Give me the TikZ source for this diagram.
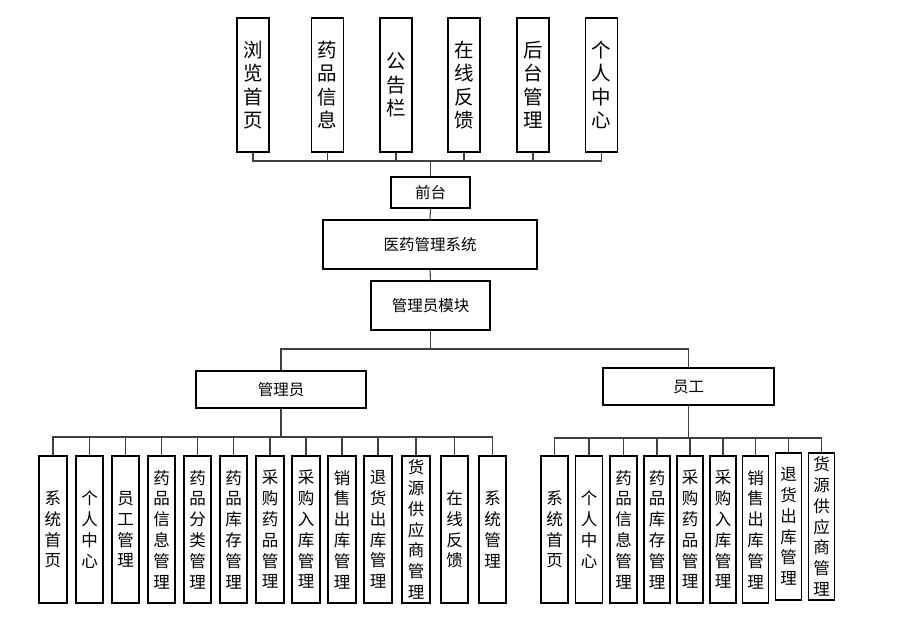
\documentclass[tikz,border=0pt]{standalone}
\usepackage{fontspec}
\newfontfamily\cjk{Noto Sans CJK SC}
\begin{document}
\begin{tikzpicture}[x=1pt,y=-1pt,
  hbox/.style={draw,line width=\orglw,inner sep=0pt,font=\cjk\fontsize{15.5}{18}\selectfont},
  vtop/.style={draw,line width=\orglw,inner sep=0pt,align=center,
    minimum width=32pt,minimum height=134pt,font=\cjk\fontsize{19.5}{23.5}\selectfont},
  vbot/.style={draw,line width=\orglw,inner sep=0pt,align=center,
    minimum width=27pt,minimum height=147pt,font=\cjk\fontsize{16.5}{20.8}\selectfont},
  wire/.style={draw=black!75,line width=\orglw}]%
% org chart, pixel coordinates, y downwards
\ifx\orglw\undefined\newdimen\orglw\fi
\orglw=1.1pt
\useasboundingbox (0,0) rectangle (906,629);
% front end row
\node[vtop] (t1) at (253,85) {浏\\览\\首\\页};
\node[vtop] (t2) at (327.5,85) {药\\品\\信\\息};
\node[vtop] (t3) at (396,85) {公\\告\\栏};
\node[vtop] (t4) at (464,85) {在\\线\\反\\馈};
\node[vtop] (t5) at (533,85) {后\\台\\管\\理};
\node[vtop] (t6) at (601.5,85) {个\\人\\中\\心};
\coordinate (tbus) at (430.5,161);
\node[hbox,minimum width=79pt,minimum height=31pt] (front) at (430.5,192.5) {前台};
\node[hbox,minimum width=214pt,minimum height=49pt] (sys) at (430,244.5) {医药管理系统};
\node[hbox,minimum width=119pt,minimum height=49pt] (mod) at (430.5,305.5) {管理员模块};
\coordinate (mbus) at (430.5,349);
\node[hbox,minimum width=170pt,minimum height=37pt] (admin) at (281,389.5) {管理员};
\node[hbox,minimum width=171pt,minimum height=37pt] (staff) at (688.5,386.5) {员工};
% admin modules
\coordinate (lbus) at (281,437);
\node[vbot,minimum width=28pt] (a1) at (53,529.5) {系\\统\\首\\页};
\node[vbot] (a2) at (89.5,529.5) {个\\人\\中\\心};
\node[vbot] (a3) at (125.5,529.5) {员\\工\\管\\理};
\node[vbot] (a4) at (161.5,529.5) {药\\品\\信\\息\\管\\理};
\node[vbot] (a5) at (197.5,529.5) {药\\品\\分\\类\\管\\理};
\node[vbot] (a6) at (233.5,529.5) {药\\品\\库\\存\\管\\理};
\node[vbot,minimum width=28pt] (a7) at (270,529.5) {采\\购\\药\\品\\管\\理};
\node[vbot,minimum width=28pt] (a8) at (306,529.5) {采\\购\\入\\库\\管\\理};
\node[vbot,minimum width=28pt] (a9) at (342,529.5) {销\\售\\出\\库\\管\\理};
\node[vbot,minimum width=28pt] (a10) at (378,529.5) {退\\货\\出\\库\\管\\理};
\node[vbot,minimum width=28pt] (a11) at (416,529.5) {货\\源\\供\\应\\商\\管\\理};
\node[vbot] (a12) at (454.5,529.5) {在\\线\\反\\馈};
\node[vbot] (a13) at (492.5,529.5) {系\\统\\管\\理};
% staff modules
\coordinate (rbus) at (688.5,438);
\node[vbot] (s1) at (554.5,529.5) {系\\统\\首\\页};
\node[vbot] (s2) at (589,529.5) {个\\人\\中\\心};
\node[vbot] (s3) at (623.5,529.5) {药\\品\\信\\息\\管\\理};
\node[vbot,minimum width=26pt] (s4) at (657,529.5) {药\\品\\库\\存\\管\\理};
\node[vbot,minimum width=26pt] (s5) at (690,529.5) {采\\购\\药\\品\\管\\理};
\node[vbot,minimum width=26pt] (s6) at (723,529.5) {采\\购\\入\\库\\管\\理};
\node[vbot,minimum width=26pt] (s7) at (755.5,529.5) {销\\售\\出\\库\\管\\理};
\node[vbot,minimum width=26pt] (s8) at (788.5,526.5) {退\\货\\出\\库\\管\\理};
\node[vbot,minimum width=26pt] (s9) at (821.5,526.5) {货\\源\\供\\应\\商\\管\\理};
% connectors
\draw[wire] (t1.south) |- (tbus);
\draw[wire] (t2.south) |- (tbus);
\draw[wire] (t3.south) |- (tbus);
\draw[wire] (t4.south) |- (tbus);
\draw[wire] (t5.south) |- (tbus);
\draw[wire] (t6.south) |- (tbus);
\draw[wire] (tbus) -- (front.north);
\draw[wire] (front.south) -- (sys.north);
\draw[wire] (sys.south) -- (mod.north);
\draw[wire] (mod.south) -- (mbus);
\draw[wire] (mbus) -| (admin.north);
\draw[wire] (mbus) -| (staff.north);
\draw[wire] (admin.south) -- (lbus);
\draw[wire] (lbus) -| (a1.north);
\draw[wire] (lbus) -| (a2.north);
\draw[wire] (lbus) -| (a3.north);
\draw[wire] (lbus) -| (a4.north);
\draw[wire] (lbus) -| (a5.north);
\draw[wire] (lbus) -| (a6.north);
\draw[wire] (lbus) -| (a7.north);
\draw[wire] (lbus) -| (a8.north);
\draw[wire] (lbus) -| (a9.north);
\draw[wire] (lbus) -| (a10.north);
\draw[wire] (lbus) -| (a11.north);
\draw[wire] (lbus) -| (a12.north);
\draw[wire] (lbus) -| (a13.north);
\draw[wire] (staff.south) -- (rbus);
\draw[wire] (rbus) -| (s1.north);
\draw[wire] (rbus) -| (s2.north);
\draw[wire] (rbus) -| (s3.north);
\draw[wire] (rbus) -| (s4.north);
\draw[wire] (rbus) -| (s5.north);
\draw[wire] (rbus) -| (s6.north);
\draw[wire] (rbus) -| (s7.north);
\draw[wire] (rbus) -| (s8.north);
\draw[wire] (rbus) -| (s9.north);
\end{tikzpicture}
\end{document}
